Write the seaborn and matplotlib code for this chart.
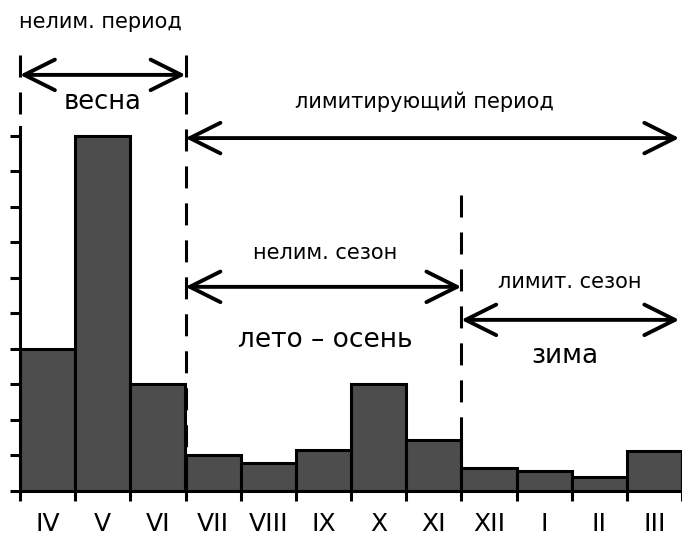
import numpy as np
import matplotlib
matplotlib.use("Agg")
import matplotlib.pyplot as plt
import seaborn as sns

# months of the hydrological year and relative runoff (in tick units)
months = ["IV", "V", "VI", "VII", "VIII", "IX", "X", "XI", "XII", "I", "II", "III"]
runoff = [4.0, 10.0, 3.0, 1.0, 0.8, 1.15, 3.0, 1.45, 0.65, 0.57, 0.4, 1.13]

# season boundaries (index of the bar edge) and labels
period_edges = [0, 3, 8, 12]
small_labels = ["нелим. период", "лимитирующий период", "нелим. сезон", "лимит. сезон"]
big_labels = ["весна", "лето – осень", "зима"]

sns.set_style("ticks")
plt.rcParams["font.family"] = ["DejaVu Sans"]
plt.rcParams["text.color"] = "black"
plt.rcParams["xtick.color"] = "black"
plt.rcParams["ytick.color"] = "black"
plt.rcParams["axes.edgecolor"] = "black"

fig = plt.figure(figsize=(6.82, 5.42), dpi=100)
ax = fig.add_axes([20 / 682, 51 / 542, 662 / 682, 436 / 542])

sns.barplot(x=months, y=runoff, color="#4d4d4d", saturation=1, width=1,
            edgecolor="black", linewidth=2.2, ax=ax)

ax.set_xlim(-0.5, 11.5)
ax.set_ylim(0, 12.28)

# axes styling
for side in ["top", "right"]:
    ax.spines[side].set_visible(False)
ax.spines["left"].set_bounds(0, 10.25)
ax.spines["left"].set_linewidth(2.2)
ax.spines["bottom"].set_linewidth(2.2)
ax.set_yticks(range(11))
ax.set_yticklabels([])
ax.tick_params(axis="y", direction="out", length=7, width=2.2)
ax.set_xticks(range(12))
ax.set_xticklabels(months, fontsize=18, color="black")
ax.tick_params(axis="x", which="major", length=0, pad=15)
ax.set_xticks(np.arange(-0.5, 12, 1), minor=True)
ax.tick_params(axis="x", which="minor", direction="out", length=7, width=2.2)
ax.set_xlabel("")
ax.set_ylabel("")

dash = (0, (7.2, 4.9))
e = [p - 0.5 for p in period_edges]
# dashed boundaries, drawn top-down so the pattern starts at the top
ax.plot([e[0], e[0]], [12.28, 10.25], color="black", lw=2.2, ls=dash, clip_on=False)
ax.plot([e[1], e[1]], [12.28, 0], color="black", lw=2.2, ls=dash, clip_on=False)
ax.plot([e[2], e[2]], [8.34, 0], color="black", lw=2.2, ls=dash, clip_on=False)


def double_arrow(x0, x1, y):
    ax.annotate("", xy=(x1, y), xytext=(x0, y),
                arrowprops=dict(arrowstyle="<->,head_length=1.1,head_width=0.55",
                                lw=2.8, color="black", mutation_scale=20,
                                shrinkA=0, shrinkB=0),
                annotation_clip=False)


double_arrow(e[0], e[1], 11.72)
double_arrow(e[1], 11.45, 9.94)
double_arrow(e[1], e[2], 5.75)
double_arrow(e[2], 11.45, 4.82)

ax.text(0.95, 13.2, small_labels[0], fontsize=15, ha="center", va="center",
        color="black", clip_on=False)
ax.text(6.83, 10.95, small_labels[1], fontsize=15, ha="center", va="center", color="black")
ax.text(5.03, 6.7, small_labels[2], fontsize=15, ha="center", va="center", color="black")
ax.text(9.47, 5.88, small_labels[3], fontsize=15, ha="center", va="center", color="black")

ax.text(1.0, 10.95, big_labels[0], fontsize=18.5, ha="center", va="center", color="black")
ax.text(5.03, 4.25, big_labels[1], fontsize=19, ha="center", va="center", color="black")
ax.text(9.37, 3.8, big_labels[2], fontsize=19, ha="center", va="center", color="black")

fig.savefig("out.png", dpi=100)
